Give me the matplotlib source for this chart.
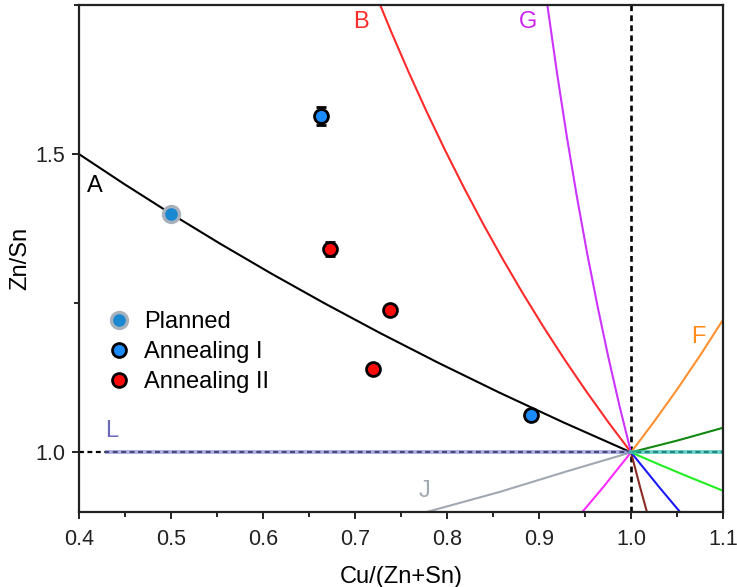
import matplotlib
matplotlib.use("Agg")
import matplotlib.pyplot as plt
from matplotlib.lines import Line2D
from matplotlib.ticker import MultipleLocator, FixedLocator

plt.rcParams['font.family'] = ['Liberation Sans', 'DejaVu Sans']

# Measured compositions
planned_x = [0.500]
planned_y = [1.400]

anneal1_x = [0.663, 0.891]
anneal1_y = [1.564, 1.062]
anneal1_err = [0.015, 0.008]

anneal2_x = [0.673, 0.738, 0.720]
anneal2_y = [1.341, 1.239, 1.139]
anneal2_err = [0.012, 0.008, 0.008]

# Off-stoichiometry lines through CZTS (1, 1): (x, y) vertices
line_A_x = [1.0, 0.92683, 0.85714, 0.79070, 0.72727, 0.66667, 0.60870, 0.55319,
            0.5, 0.44898, 0.4]
line_A_y = [1.0, 1.05, 1.1, 1.15, 1.2, 1.25, 1.3, 1.35, 1.4, 1.45, 1.5]

line_B_x = [1.0, 0.97531, 0.95122, 0.92771, 0.90476, 0.88235, 0.86047, 0.83908,
            0.81818, 0.79775, 0.77778, 0.75824, 0.73913, 0.72043]
line_B_y = [1.0, 1.05063, 1.10256, 1.15584, 1.21053, 1.26667, 1.32432, 1.38356,
            1.44444, 1.50704, 1.57143, 1.63768, 1.70588, 1.77612]

line_G_x = [1.0, 0.98765, 0.97561, 0.96386, 0.95238, 0.94118, 0.93023, 0.91954,
            0.90909, 0.89888]
line_G_y = [1.0, 1.07692, 1.15789, 1.24324, 1.33333, 1.42857, 1.52941, 1.63636,
            1.75, 1.87097]

line_H_x = [1.0, 0.970, 0.940]
line_H_y = [1.0, 0.942, 0.887]

line_C_x = [1.0, 1.010, 1.020]
line_C_y = [1.0, 0.941, 0.885]

line_I_x = [1.0, 1.031, 1.062]
line_I_y = [1.0, 0.941, 0.884]

line_D_x = [1.0, 1.030, 1.061, 1.109]
line_D_y = [1.0, 0.980, 0.960, 0.930]

line_F_x = [1.0, 1.025, 1.05, 1.075, 1.1]
line_F_y = [1.0, 1.05128, 1.10526, 1.16216, 1.22222]

line_E_x = [1.0, 1.051, 1.102]
line_E_y = [1.0, 1.020, 1.042]

line_J_x = [1.0, 0.930, 0.857, 0.778]
line_J_y = [1.0, 0.968, 0.9335, 0.900]

line_L_x = [0.430, 1.0]
line_L_y = [1.0, 1.0]

line_K_x = [1.0, 1.1]
line_K_y = [1.0, 1.0]

x_ticks = [0.4, 0.5, 0.6, 0.7, 0.8, 0.9, 1.0, 1.1]
y_ticks = [1.0, 1.5]

fig = plt.figure(figsize=(7.37, 5.87), dpi=100)
ax = fig.add_axes([0.1072, 0.1278, 0.8738, 0.8637])

# reference guides
ax.axvline(1.0, color='black', lw=1.9, ls=(0, (2.2, 1.6)), zorder=1)
ax.axhline(1.0, color='black', lw=1.6, ls=(0, (2.2, 1.6)), zorder=1)

lw = 1.5
ax.plot(line_A_x, line_A_y, color='black', lw=lw, zorder=2)
ax.plot(line_B_x, line_B_y, color='#ff2a2a', lw=lw, zorder=2)
ax.plot(line_G_x, line_G_y, color='#cc33ff', lw=lw, zorder=2)
ax.plot(line_H_x, line_H_y, color='#ff2cff', lw=lw, zorder=2)
ax.plot(line_C_x, line_C_y, color='#8b2a22', lw=lw, zorder=2)
ax.plot(line_I_x, line_I_y, color='#1a1aff', lw=lw, zorder=2)
ax.plot(line_D_x, line_D_y, color='#22ee22', lw=lw, zorder=2)
ax.plot(line_F_x, line_F_y, color='#ff9030', lw=lw, zorder=2)
ax.plot(line_E_x, line_E_y, color='#118811', lw=lw, zorder=2)
ax.plot(line_J_x, line_J_y, color='#a0a8b2', lw=lw, zorder=2)
ax.plot(line_L_x, line_L_y, color='#7a7ad0', lw=2.8, alpha=0.6, zorder=2)
ax.plot(line_K_x, line_K_y, color='#30c0b0', lw=2.8, alpha=0.7, zorder=2)

# line labels
lab_fs = 17
ax.text(0.417, 1.446, 'A', color='black', fontsize=lab_fs, ha='center', va='center')
ax.text(0.7065, 1.721, 'B', color='#ff2a2a', fontsize=lab_fs, ha='center', va='center')
ax.text(0.888, 1.721, 'G', color='#cc22ee', fontsize=lab_fs, ha='center', va='center')
ax.text(1.073, 1.194, 'F', color='#ff8c1a', fontsize=lab_fs, ha='center', va='center')
ax.text(0.436, 1.035, 'L', color='#6a6ab8', fontsize=lab_fs, ha='center', va='center')
ax.text(0.776, 0.935, 'J', color='#a0a8b2', fontsize=lab_fs, ha='center', va='center')

# data points
planned_style = dict(marker='o', ms=11.5, mfc='#1a88d0', mec='#a8b0bc', mew=2.4)
a1_style = dict(marker='o', ms=10, mfc='#1a8cff', mec='black', mew=2.0)
a2_style = dict(marker='o', ms=10, mfc='#ff0a0a', mec='black', mew=2.0)

ax.plot(planned_x, planned_y, ls='none', zorder=5, **planned_style)
ax.errorbar(anneal1_x, anneal1_y, yerr=anneal1_err, ls='none', ecolor='black',
            elinewidth=1.0, capsize=3.5, zorder=5, **a1_style)
ax.errorbar(anneal2_x, anneal2_y, yerr=anneal2_err, ls='none', ecolor='black',
            elinewidth=1.0, capsize=3.5, zorder=5, **a2_style)

ax.set_xlim(0.4, 1.1)
ax.set_ylim(0.9, 1.75)
ax.xaxis.set_major_locator(FixedLocator(x_ticks))
ax.xaxis.set_minor_locator(MultipleLocator(0.05))
ax.yaxis.set_major_locator(FixedLocator(y_ticks))
ax.yaxis.set_minor_locator(FixedLocator([1.25, 1.75]))
ax.set_xticklabels([f'{v:.1f}' for v in x_ticks])
ax.set_yticklabels([f'{v:.1f}' for v in y_ticks])

ax.tick_params(which='major', direction='out', length=5, width=1.4, labelsize=15.5,
               colors='#222222')
ax.tick_params(axis='x', which='major', pad=7.5)
ax.tick_params(axis='y', which='major', pad=5)
ax.tick_params(which='minor', direction='out', length=3.5, width=1.2)
for sp in ax.spines.values():
    sp.set_linewidth(1.6)
    sp.set_color('#222222')

ax.set_xlabel('Cu/(Zn+Sn)', fontsize=17, labelpad=11)
ax.set_ylabel('Zn/Sn', fontsize=17, labelpad=3)

handles = [Line2D([], [], ls='none', **planned_style),
           Line2D([], [], ls='none', **a1_style),
           Line2D([], [], ls='none', **a2_style)]
labels = ['Planned', 'Annealing I', 'Annealing II']
leg = ax.legend(handles, labels, loc='upper left', bbox_to_anchor=(0.040, 0.396),
                frameon=False, fontsize=17, handletextpad=0.45, labelspacing=0.33,
                handlelength=1.2, borderaxespad=0.0, borderpad=0.0)

fig.savefig('out.png', dpi=100)
